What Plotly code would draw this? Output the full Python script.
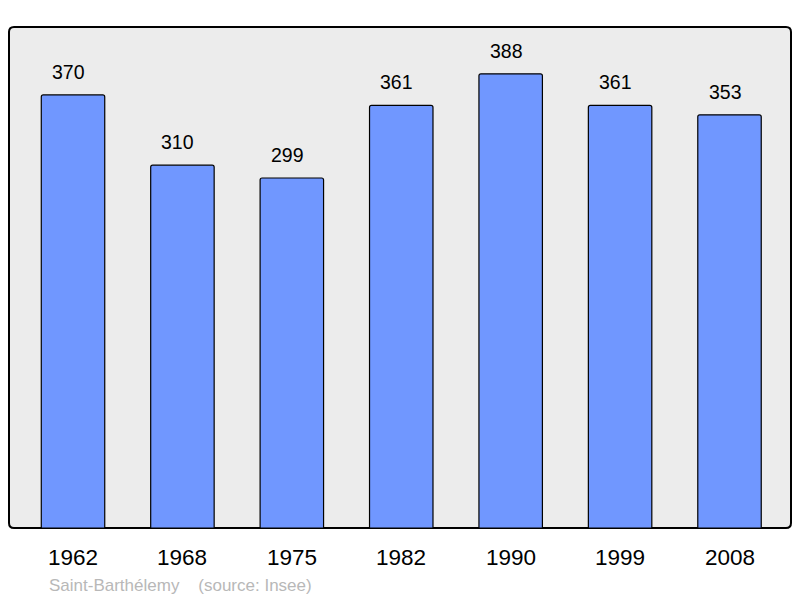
import plotly.graph_objects as go

years = ["1962", "1968", "1975", "1982", "1990", "1999", "2008"]
population = [370, 310, 299, 361, 388, 361, 353]
source_text = "Saint-Barthélemy    (source: Insee)"

W, H = 800, 598
L, R, T, B = 9, 9, 27, 70

fig = go.Figure()
fig.add_trace(go.Bar(
    x=list(range(len(years))),
    y=population,
    width=0.58,
    marker=dict(color="#7097ff", line=dict(color="#000000", width=1.2), cornerradius=2),
    hoverinfo="skip",
))

for i, v in enumerate(population):
    fig.add_annotation(x=i, y=v, text=str(v), showarrow=False, yanchor="middle",
                       yshift=23, xshift=-4.5, font=dict(size=19.5, color="#000000"))
for i, yr in enumerate(years):
    fig.add_annotation(x=i, y=0, text=yr, showarrow=False, yanchor="middle",
                       yshift=-29.5, font=dict(size=22.5, color="#000000"))

fig.add_annotation(xref="paper", yref="paper", x=(47 - L) / (W - L - R), y=-(585 - (H - B)) / (H - T - B),
                   xanchor="left", yanchor="middle", text=source_text, showarrow=False,
                   font=dict(size=17, color="#b8b8b8"))

# rounded frame
rx = 5 / (W - L - R)
ry = 5 / (H - T - B)
path = (f"M {rx},0 L {1-rx},0 Q 1,0 1,{ry} L 1,{1-ry} Q 1,1 {1-rx},1 "
        f"L {rx},1 Q 0,1 0,{1-ry} L 0,{ry} Q 0,0 {rx},0 Z")
fig.add_shape(type="path", path=path, xref="paper", yref="paper",
              fillcolor="#ececec", line=dict(color="#000000", width=2), layer="below")

fig.update_layout(
    width=W, height=H,
    margin=dict(l=L, r=R, t=T, b=B),
    paper_bgcolor="#ffffff",
    plot_bgcolor="rgba(0,0,0,0)",
    font=dict(family="Liberation Sans, Arial, sans-serif"),
    showlegend=False,
    xaxis=dict(range=[-0.585, 6.562], showgrid=False, zeroline=False, showticklabels=False,
               ticks="", fixedrange=True),
    yaxis=dict(range=[0, 428], showgrid=False, zeroline=False, showticklabels=False,
               ticks="", fixedrange=True),
)

fig.write_html("out.html", config={"displayModeBar": False},
               post_script="document.body.style.margin='0';document.body.style.padding='0';")
